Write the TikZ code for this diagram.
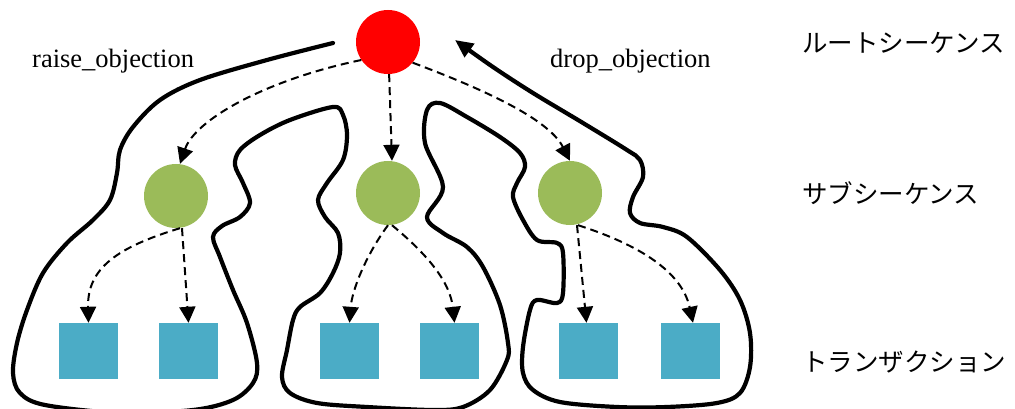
\documentclass[tikz,border=0pt]{standalone}
\usepackage{fontspec}
\setmainfont{Liberation Serif}
\newfontfamily\jpfont{Noto Sans CJK JP}
\usetikzlibrary{arrows.meta}
\definecolor{rootred}{HTML}{FF0000}
\definecolor{subgreen}{HTML}{9BBB59}
\definecolor{trblue}{HTML}{4BACC6}
\begin{document}
\begin{tikzpicture}[x=1pt,y=-1pt,
  rootnode/.style={circle,fill=rootred,minimum size=64pt,inner sep=0pt},
  subnode/.style={circle,fill=subgreen,minimum size=64pt,inner sep=0pt},
  trnode/.style={rectangle,fill=trblue,minimum width=59pt,minimum height=56pt,inner sep=0pt},
  dasharrow/.style={line width=2pt,dash pattern=on 8pt off 5pt,-{Triangle[length=16pt,width=16pt]}},
  snake/.style={line width=4.2pt,line cap=round,line join=round},
  latlabel/.style={font=\fontsize{26.5}{30}\selectfont,anchor=base west,inner sep=0pt},
  jplabel/.style={font=\jpfont\fontsize{25.5}{30}\selectfont,anchor=west,inner sep=0pt}]
\useasboundingbox (0,0) rectangle (1015,409);

\node[rootnode] (r) at (388,42) {};
\node[subnode] (g1) at (176,196) {};
\node[subnode] (g2) at (388,193) {};
\node[subnode] (g3) at (570,193) {};
\node[trnode] (t1) at (88.5,351) {};
\node[trnode] (t2) at (188.5,351) {};
\node[trnode] (t3) at (349.5,351) {};
\node[trnode] (t4) at (449.5,351) {};
\node[trnode] (t5) at (588.5,351) {};
\node[trnode] (t6) at (690,351) {};

\node[latlabel] (lraise) at (32,68) {raise\_objection};
\node[latlabel] (ldrop) at (550,68) {drop\_objection};
\node[jplabel] (jroot) at (802,43) {ルートシーケンス};
\node[jplabel] (jsub) at (802,193) {サブシーケンス};
\node[jplabel] (jtr) at (802,362) {トランザクション};

% dashed arrows
\draw[dasharrow] (r.214) .. controls (265,80) and (195,120) .. ([xshift=4pt]g1.north);
\draw[dasharrow] (r.272) -- ([xshift=4pt]g2.north);
\draw[dasharrow] (r.-40) .. controls (480,88) and (548,118) .. (g3.north);
\draw[dasharrow] ([xshift=4pt]g1.south) .. controls (118,247) and (87,268) .. (t1.north);
\draw[dasharrow] ([xshift=6pt]g1.south) -- (t2.north);
\draw[dasharrow] (g2.south) .. controls (366,255) and (352,290) .. (t3.north);
\draw[dasharrow] ([xshift=4pt]g2.south) .. controls (428,255) and (450,282) .. ([xshift=5pt]t4.north);
\draw[dasharrow] ([xshift=7pt]g3.south) -- ([xshift=-2pt]t5.north);
\draw[dasharrow] ([xshift=8pt]g3.south) .. controls (640,245) and (682,272) .. ([xshift=3pt]t6.north);

% the snake
\draw[snake,-{Triangle[length=18pt,width=16pt]}] plot[smooth,tension=0.55] coordinates {
(333,43) (267,60) (200,80) (160,100) (133,127) (120,150) (117,173) (110,200)
(93,220) (67,243) (43,273) (27,310) (17,343) (13,373) (20,393) (45,405)
(120,413) (193,410) (233,400) (253,383) (257,363) (247,323) (233,290) (220,257)
(213,237) (222,226) (240,217) (250,203) (243,183) (235,165) (240,150) (260,135)
(290,120) (333,107) (343,115) (347,135) (343,160) (327,183) (318,200) (325,217)
(338,233) (340,253) (333,273) (320,293) (300,307) (293,320) (287,350) (282,377)
(290,393) (317,403) (367,407) (433,410) (463,407) (490,390) (507,360) (508,343)
(500,305) (483,267) (467,247) (443,233) (427,217) (443,187) (425,143) (427,110)
(440,103) (467,117) (500,137) (520,153) (525,167) (517,183) (513,197) (523,220)
(537,240) (557,243) (563,253) (563,293) (557,303) (537,300) (530,310) (523,347)
(523,373) (533,390) (560,402) (617,407) (667,407) (717,403) (740,393) (750,367)
(750,333) (740,300) (720,270) (687,237) (663,227) (640,223) (630,213) (633,197)
(643,177) (640,160) (627,150) (583,123) (533,93) (493,67) (455,40)};
\end{tikzpicture}
\end{document}
